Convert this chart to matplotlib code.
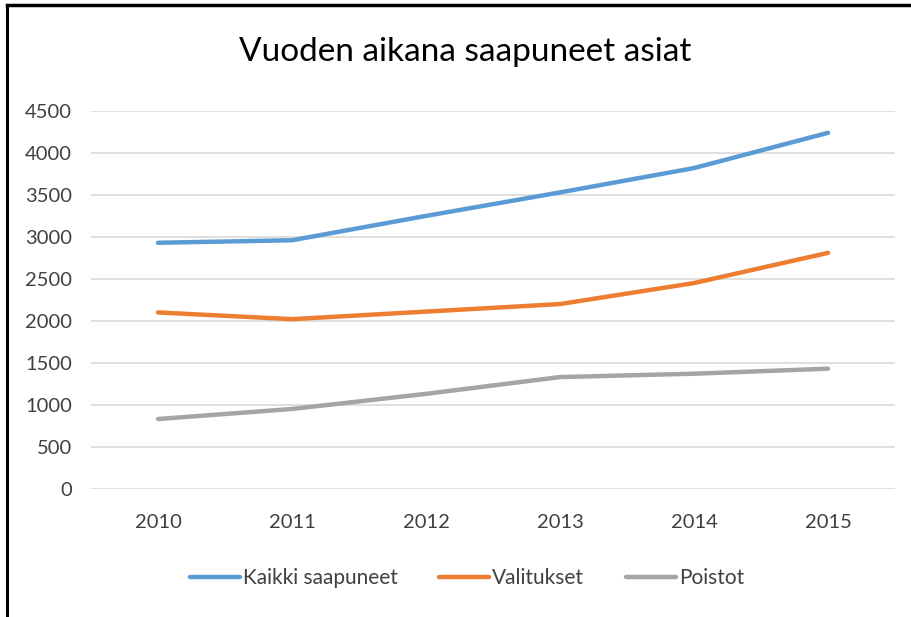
import numpy as np
import matplotlib.pyplot as plt
from matplotlib.lines import Line2D

years = ['2010', '2011', '2012', '2013', '2014', '2015']
kaikki = [2930, 2960, 3250, 3530, 3820, 4240]
valitukset = [2100, 2020, 2110, 2200, 2450, 2810]
poistot = [830, 950, 1130, 1330, 1370, 1430]
names = ['Kaikki saapuneet', 'Valitukset', 'Poistot']
colours = ['#5B9BD5', '#ED7D31', '#A5A5A5']

plt.rcParams['font.family'] = ['Lato', 'DejaVu Sans']

fig = plt.figure(figsize=(9.12, 6.17), dpi=100)
ax = fig.add_axes([91/912, 1-488.7/617, (895-91)/912, (488.7-111)/617])

x = np.arange(len(years))
for vals, name, c in zip([kaikki, valitukset, poistot], names, colours):
    ax.plot(x, vals, color=c, lw=3.2, solid_capstyle='round', label=name)

ax.set_xlim(-0.5, len(years)-0.5)
ax.set_ylim(0, 4500)
ax.set_yticks(np.arange(0, 4501, 500))
ax.set_xticks(x)
ax.set_xticklabels(years)
ax.yaxis.grid(True, color='#D9D9D9', lw=1.2)
ax.set_axisbelow(True)
for s in ax.spines.values():
    s.set_visible(False)
ax.tick_params(axis='both', length=0, labelsize=14.5, labelcolor='#404040')
ax.tick_params(axis='y', pad=13.5)
ax.tick_params(axis='x', pad=18)

fig.text(465/912, 1-52/617, 'Vuoden aikana saapuneet asiat', ha='center', va='center',
         fontsize=24, color='#000000')

leg = ax.legend(loc='center', bbox_to_anchor=(467/912, 1-578/617), bbox_transform=fig.transFigure,
                ncol=3, frameon=False, fontsize=15, handlelength=2.4, handletextpad=0.15,
                columnspacing=2.0, labelcolor='#404040')

# chart frame (top and left edges)
fig.add_artist(Line2D([7.5/912, 7.5/912], [0, 1-4.5/617], transform=fig.transFigure, color='black', lw=2.2))
fig.add_artist(Line2D([7.5/912, 1], [1-4.5/617, 1-4.5/617], transform=fig.transFigure, color='black', lw=2.5))

fig.savefig('out.png', dpi=100)
